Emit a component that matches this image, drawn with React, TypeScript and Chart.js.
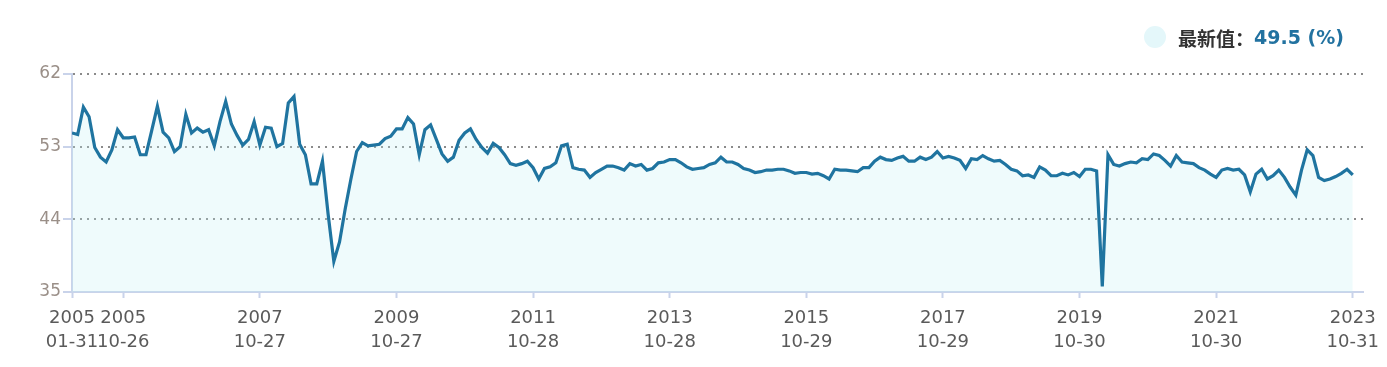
import React, { useEffect, useRef } from "react";
import { Chart, registerables } from "chart.js";

Chart.register(...registerables);

// Monthly manufacturing PMI (%), Jan 2005 – Oct 2023
const PMI_2005_2009: number[] = [
  54.7, 54.5, 57.9, 56.7, 52.9, 51.7, 51.1, 52.6, 55.1, 54.1, 54.1, 54.2,
  52.0, 52.0, 55.0, 58.0, 54.8, 54.1, 52.4, 53.0, 57.0, 54.7, 55.3, 54.8,
  55.1, 53.1, 56.1, 58.6, 55.8, 54.4, 53.2, 53.9, 56.1, 53.2, 55.4, 55.3,
  53.0, 53.4, 58.4, 59.2, 53.3, 52.0, 48.4, 48.4, 51.2, 44.6, 38.8, 41.2,
  45.3, 49.0, 52.4, 53.5, 53.1, 53.2, 53.3, 54.0, 54.3, 55.2, 55.2, 56.6,
];
const PMI_2010_2014: number[] = [
  55.8, 52.0, 55.1, 55.7, 53.9, 52.1, 51.2, 51.7, 53.8, 54.7, 55.2, 53.9,
  52.9, 52.2, 53.4, 52.9, 52.0, 50.9, 50.7, 50.9, 51.2, 50.4, 49.0, 50.3,
  50.5, 51.0, 53.1, 53.3, 50.4, 50.2, 50.1, 49.2, 49.8, 50.2, 50.6, 50.6,
  50.4, 50.1, 50.9, 50.6, 50.8, 50.1, 50.3, 51.0, 51.1, 51.4, 51.4, 51.0,
  50.5, 50.2, 50.3, 50.4, 50.8, 51.0, 51.7, 51.1, 51.1, 50.8, 50.3, 50.1,
];
const PMI_2015_2019: number[] = [
  49.8, 49.9, 50.1, 50.1, 50.2, 50.2, 50.0, 49.7, 49.8, 49.8, 49.6, 49.7,
  49.4, 49.0, 50.2, 50.1, 50.1, 50.0, 49.9, 50.4, 50.4, 51.2, 51.7, 51.4,
  51.3, 51.6, 51.8, 51.2, 51.2, 51.7, 51.4, 51.7, 52.4, 51.6, 51.8, 51.6,
  51.3, 50.3, 51.5, 51.4, 51.9, 51.5, 51.2, 51.3, 50.8, 50.2, 50.0, 49.4,
  49.5, 49.2, 50.5, 50.1, 49.4, 49.4, 49.7, 49.5, 49.8, 49.3, 50.2, 50.2,
];
const PMI_2020_2023: number[] = [
  50.0, 35.7, 52.0, 50.8, 50.6, 50.9, 51.1, 51.0, 51.5, 51.4, 52.1, 51.9,
  51.3, 50.6, 51.9, 51.1, 51.0, 50.9, 50.4, 50.1, 49.6, 49.2, 50.1, 50.3,
  50.1, 50.2, 49.5, 47.4, 49.6, 50.2, 49.0, 49.4, 50.1, 49.2, 48.0, 47.0,
  50.1, 52.6, 51.9, 49.2, 48.8, 49.0, 49.3, 49.7, 50.2, 49.5,
];
const PMI: number[] = [...PMI_2005_2009, ...PMI_2010_2014, ...PMI_2015_2019, ...PMI_2020_2023];

// Category (month index) positions that carry a tick label, and their labels
const TICK_INDEX: number[] = [0, 9, 33, 57, 81, 105, 129, 153, 177, 201, 225];
const TICK_YEAR: string[] = ["2005", "2005", "2007", "2009", "2011", "2013", "2015", "2017", "2019", "2021", "2023"];
const TICK_DAY: string[] = ["01-31", "10-26", "10-27", "10-27", "10-28", "10-28", "10-29", "10-29", "10-30", "10-30", "10-31"];
const Y_TICKS: number[] = [35, 44, 53, 62];

const LATEST_LABEL = "最新值：";
const LATEST_VALUE = "49.5 (%)";

export default function App() {
  const ref = useRef<HTMLCanvasElement | null>(null);

  useEffect(() => {
    if (!ref.current) return;
    const chart = new Chart(ref.current, {
      type: "line",
      data: {
        datasets: [
          {
            data: PMI.map((v, i) => ({ x: i, y: v })),
            borderColor: "#1f74a0",
            borderWidth: 3.2,
            backgroundColor: "rgba(190,238,244,0.25)",
            fill: "start",
            pointRadius: 0,
            pointHoverRadius: 0,
            tension: 0,
          },
        ],
      },
      options: {
        animation: false,
        responsive: false,
        maintainAspectRatio: false,
        layout: { padding: { left: 0, right: 16, top: 66, bottom: 0 } },
        plugins: { legend: { display: false }, tooltip: { enabled: false } },
        scales: {
          x: {
            type: "linear",
            min: 0,
            max: 226.8,
            afterBuildTicks: (scale: any) => {
              scale.ticks = TICK_INDEX.map((v) => ({ value: v }));
            },
            afterFit: (scale: any) => {
              scale.height = 67;
              scale.paddingLeft = 0;
              scale.paddingRight = 0;
            },
            ticks: {
              autoSkip: false,
              maxRotation: 0,
              minRotation: 0,
              padding: 8,
              color: "#5a5a5a",
              font: { family: "DejaVu Sans", size: 18, lineHeight: 1.33 },
              callback: (value: any) => {
                const k = TICK_INDEX.indexOf(Number(value));
                return k >= 0 ? [TICK_YEAR[k], TICK_DAY[k]] : "";
              },
            },
            grid: {
              display: true,
              drawOnChartArea: false,
              drawTicks: true,
              tickLength: 6,
              tickColor: "#c9d3ea",
              tickWidth: 2,
            },
            border: { display: true, color: "#c9d3ea", width: 2 },
          },
          y: {
            type: "linear",
            min: 35,
            max: 62,
            afterBuildTicks: (scale: any) => {
              scale.ticks = Y_TICKS.map((v) => ({ value: v }));
            },
            afterFit: (scale: any) => {
              scale.width = 64;
            },
            ticks: {
              padding: 2,
              color: "#9a8f88",
              font: { family: "DejaVu Sans", size: 17 },
            },
            grid: {
              display: true,
              drawOnChartArea: true,
              drawTicks: true,
              tickLength: 9,
              color: "#8a8a8a",
              lineWidth: 2,
              tickColor: "#c9d3ea",
              tickWidth: 2,
              tickBorderDash: [],
            },
            border: { display: true, color: "#c9d3ea", width: 2, dash: [2, 5] },
          },
        },
      },
    });
    return () => chart.destroy();
  }, []);

  return (
    <div style={{ position: "relative", width: 1371, height: 351 }}>
      <canvas ref={ref} width={1371} height={351} style={{ display: "block" }} />
      <div
        style={{
          position: "absolute",
          right: 35,
          top: 16,
          height: 26,
          display: "flex",
          alignItems: "center",
          fontWeight: 700,
          whiteSpace: "nowrap",
        }}
      >
        <span
          style={{
            display: "inline-block",
            width: 22,
            height: 22,
            borderRadius: "50%",
            background: "#e4f7fa",
            marginRight: 12,
          }}
        />
        <span style={{ color: "#333333", fontFamily: "'Noto Sans CJK SC', sans-serif", fontSize: 19 }}>
          {LATEST_LABEL}
        </span>
        <span style={{ color: "#2272a0", fontFamily: "'DejaVu Sans', sans-serif", fontSize: 19 }}>
          {LATEST_VALUE}
        </span>
      </div>
    </div>
  );
}
